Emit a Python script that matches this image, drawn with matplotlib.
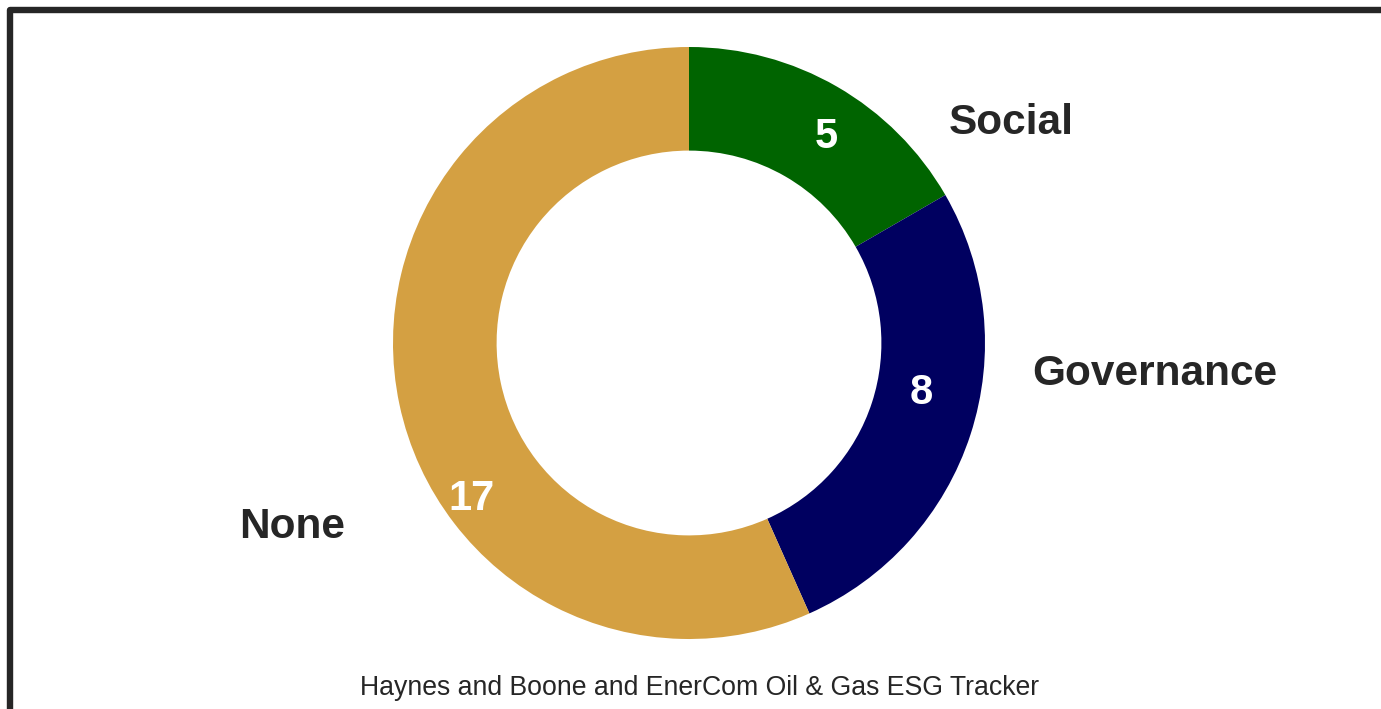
import matplotlib.pyplot as plt
from matplotlib.lines import Line2D

plt.rcParams['font.family'] = ['Liberation Sans', 'DejaVu Sans']

categories = ['Social', 'Governance', 'None']
counts = [5, 8, 17]
colors = ['#006400', '#000060', '#D4A042']
source = 'Haynes and Boone and EnerCom Oil & Gas ESG Tracker'

W, H = 1381, 709
fig = plt.figure(figsize=(W / 100, H / 100), dpi=100)
ax = fig.add_axes([0, 0, 1, 1])

# ring, clockwise from 12 o'clock
cx, cy, r = 689, H - 343, 296
wedges, _ = ax.pie(counts, colors=colors, startangle=90, counterclock=False,
                   center=(cx, cy), radius=r, frame=True,
                   wedgeprops=dict(width=r * 0.35, linewidth=0))
ax.set_xlim(0, W)
ax.set_ylim(0, H)
ax.set_aspect('equal')
ax.axis('off')

# value labels inside the ring, category names outside
value_pos = [(826, 137), (921, 393), (472, 499)]
name_pos = [(1011, 123), (1155, 374), (292, 527)]
for n, name, (vx, vy), (nx, ny) in zip(counts, categories, value_pos, name_pos):
    ax.text(vx, H - vy, str(n), color='white', fontsize=30, fontweight='bold',
            ha='center', va='center')
    ax.text(nx, H - ny, name, color='#262626', fontsize=30.5, fontweight='bold',
            ha='center', va='center')

ax.text(700, H - 688, source, color='#262626', fontsize=19.2,
        ha='center', va='center')

# frame on the left and top edges
ax.add_line(Line2D([10, 10, W + 20], [-20, H - 10, H - 10], color='#262626',
                   linewidth=4.6, solid_joinstyle='round', clip_on=False))

fig.savefig('out.png', dpi=100, facecolor='white')
